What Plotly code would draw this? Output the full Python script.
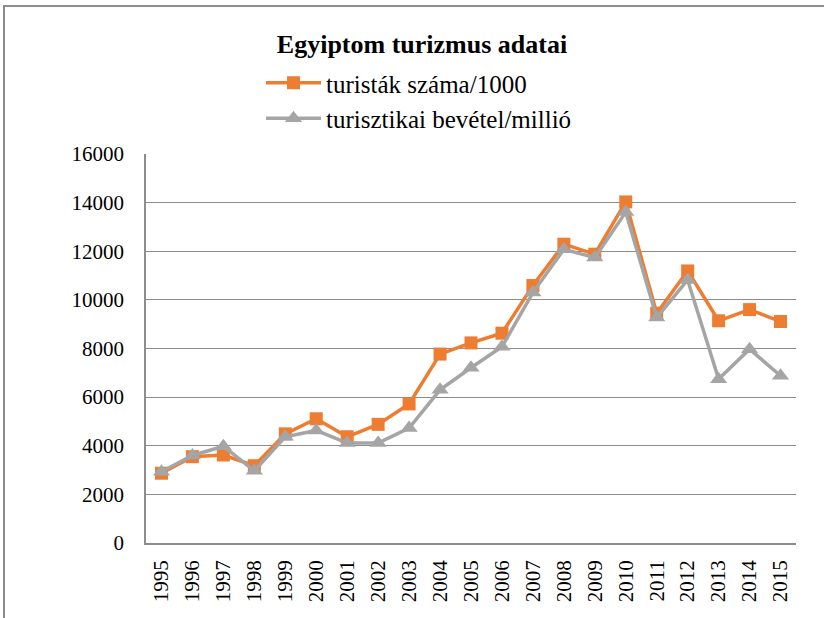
import plotly.graph_objects as go

years = [str(y) for y in range(1995, 2016)]
tourists = [2870, 3550, 3620, 3180, 4490, 5110, 4370, 4880, 5720, 7770, 8230, 8630, 10590, 12290, 11880, 14030, 9450, 11190, 9140, 9600, 9110]
revenue = [2930, 3600, 3980, 2970, 4370, 4630, 4110, 4110, 4730, 6300, 7210, 8070, 10300, 12080, 11740, 13610, 9270, 10820, 6740, 7970, 6880]
y_ticks = [0, 2000, 4000, 6000, 8000, 10000, 12000, 14000, 16000]

W, H = 824, 618
L, R, T, B = 146, 28, 154, 75
pw, ph = W - L - R, H - T - B

font_family = "Liberation Serif"

fig = go.Figure()
fig.add_trace(go.Scatter(
    x=years, y=tourists, name="turisták száma/1000", mode="lines+markers",
    line=dict(color="#ED7D31", width=3.5),
    marker=dict(symbol="square", size=13, color="#ED7D31"),
))
fig.add_trace(go.Scatter(
    x=years, y=revenue, name="turisztikai bevétel/millió", mode="lines+markers",
    line=dict(color="#A5A5A5", width=3.5),
    marker=dict(symbol="triangle-up", size=15, color="#A5A5A5"),
))

def px_x(x):
    return (x - L) / pw

def px_y(y):
    return (H - B - y) / ph

fig.update_layout(
    width=W, height=H,
    margin=dict(l=L, r=R, t=T, b=B, autoexpand=False),
    paper_bgcolor="white", plot_bgcolor="white",
    font=dict(family=font_family, color="black", size=21),
    title=dict(text="<b>Egyiptom turizmus adatai</b>", x=422 / W, xanchor="center",
               y=1 - 44 / H, yanchor="middle", yref="container", xref="container",
               font=dict(size=26, family=font_family, color="black")),
    legend=dict(x=px_x(261), y=px_y(60), tracegroupgap=0,
                xanchor="left", yanchor="top", font=dict(size=25, family=font_family, color="black"),
                bgcolor="rgba(0,0,0,0)", itemwidth=55),
    showlegend=True,
    shapes=[dict(type="rect", xref="paper", yref="paper",
                 x0=px_x(4), x1=px_x(W + 10), y0=px_y(H + 10), y1=px_y(6),
                 line=dict(color="#8c8c8c", width=2), fillcolor="rgba(0,0,0,0)", layer="below")],
)
fig.update_xaxes(
    type="category", tickmode="array", tickvals=years, ticktext=years, range=[-0.5, 20.5],
    tickangle=-90, showgrid=False, showline=True,
    linecolor="#8c8c8c", linewidth=1.5, ticks="", ticklen=0, tickfont=dict(size=21, family=font_family),
    ticklabelstandoff=7, automargin=False,
)
fig.update_yaxes(
    range=[0, 16000], tickmode="array", tickvals=y_ticks, ticktext=[str(v) for v in y_ticks],
    showgrid=True, gridcolor="#8c8c8c", gridwidth=1.2,
    showline=True, linecolor="#8c8c8c", linewidth=1.5, zeroline=False, ticks="", ticklen=0,
    tickfont=dict(size=21, family=font_family), ticklabelstandoff=16, automargin=False,
)

fig.write_html("out.html", config={"displayModeBar": False},
               post_script="document.body.style.margin='0';document.body.style.overflow='hidden';")
